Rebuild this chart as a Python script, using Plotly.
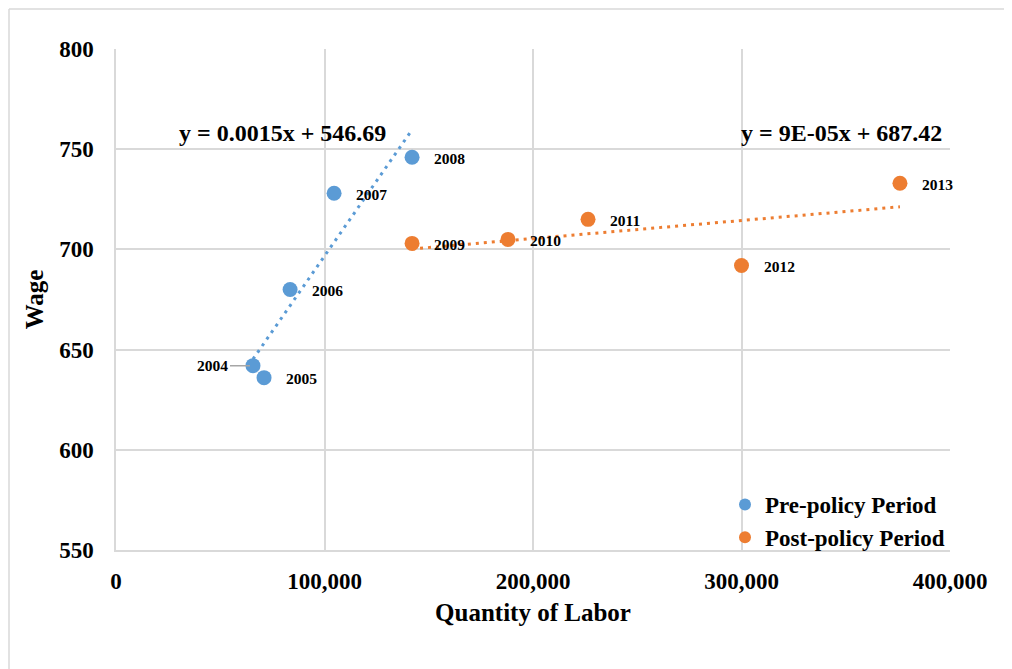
import plotly.graph_objects as go

# ---- data ----
pre_years = ["2004", "2005", "2006", "2007", "2008"]
pre_labor = [65700, 71000, 83500, 104600, 142000]
pre_wage = [642, 636, 680, 728, 746]

post_years = ["2009", "2010", "2011", "2012", "2013"]
post_labor = [142000, 188000, 226400, 300000, 376000]
post_wage = [703, 705, 715, 692, 733]

pre_slope, pre_intercept = 0.0015, 546.69
post_slope, post_intercept = 9e-05, 687.42
pre_eq = "y = 0.0015x + 546.69"
post_eq = "y = 9E-05x + 687.42"

x_ticks = [0, 100000, 200000, 300000, 400000]
y_ticks = [550, 600, 650, 700, 750, 800]

BLUE = "#5B9BD5"
ORANGE = "#ED7D31"
GRID = "#D9D9D9"
FONT = "Liberation Serif"

# page offset (browser body margin)
OFF = 8
W, H = 1012 - OFF, 669 - OFF
L, T = 116 - OFF, 49 - OFF
R = (1012 - OFF) - (950 - OFF)
B = (669 - OFF) - (550 - OFF)
pw, ph = W - L - R, H - T - B


def px_to_paper(px, py):
    """convert a screenshot pixel position to paper coordinates"""
    return (px - OFF - L) / pw, 1 - (py - OFF - T) / ph


fig = go.Figure()


def trend(xs, m, b):
    x0, x1 = min(xs), max(xs)
    return [x0, x1], [m * x0 + b, m * x1 + b]


tx, ty = trend(pre_labor, pre_slope, pre_intercept)
fig.add_trace(go.Scatter(x=tx, y=ty, mode="lines", showlegend=False,
                         line=dict(color=BLUE, width=3, dash="3px,5px"), hoverinfo="skip"))
tx, ty = trend(post_labor, post_slope, post_intercept)
fig.add_trace(go.Scatter(x=tx, y=ty, mode="lines", showlegend=False,
                         line=dict(color=ORANGE, width=3, dash="3px,5px"), hoverinfo="skip"))

fig.add_trace(go.Scatter(x=pre_labor, y=pre_wage, mode="markers", name="<b>Pre-policy Period</b>",
                         marker=dict(color=BLUE, size=15)))
fig.add_trace(go.Scatter(x=post_labor, y=post_wage, mode="markers", name="<b>Post-policy Period</b>",
                         marker=dict(color=ORANGE, size=15)))

annotations = []
lab_font = dict(family=FONT, size=15.5, color="black")
for yr, x, y in list(zip(pre_years, pre_labor, pre_wage)) + list(zip(post_years, post_labor, post_wage)):
    if yr == "2004":
        annotations.append(dict(x=x, y=y, xref="x", yref="y", text="<b>2004</b>", font=lab_font,
                                showarrow=True, arrowhead=0, arrowcolor="#A6A6A6", arrowwidth=1.5,
                                ax=-40, ay=0, standoff=3))
    else:
        annotations.append(dict(x=x, y=y, xref="x", yref="y", text=f"<b>{yr}</b>", font=lab_font,
                                showarrow=False, xanchor="left", xshift=20, yshift=-1))

eq_font = dict(family=FONT, size=24, color="black")
for txt, (px, py) in [(pre_eq, (282, 133)), (post_eq, (841, 133))]:
    ax_, ay_ = px_to_paper(px, py)
    annotations.append(dict(x=ax_, y=ay_, xref="paper", yref="paper", text=f"<b>{txt}</b>",
                            font=eq_font, showarrow=False, xanchor="center", yanchor="middle"))

bx0, by0 = px_to_paper(9, 9)
bx1, by1 = px_to_paper(1020, 680)
lgx, lgy = px_to_paper(950, 521)

fig.update_layout(
    width=W, height=H,
    margin=dict(l=L, r=R, t=T, b=B, autoexpand=False),
    paper_bgcolor="white", plot_bgcolor="white",
    font=dict(family=FONT, color="black"),
    annotations=annotations,
    legend=dict(x=lgx, y=lgy, xanchor="right", yanchor="middle", bgcolor="rgba(0,0,0,0)",
                font=dict(family=FONT, size=23, color="black"), itemsizing="constant",
                tracegroupgap=0, itemwidth=30, borderwidth=0),
    xaxis=dict(range=[0, 400000], tickvals=x_ticks, tickformat=",", showgrid=True,
               gridcolor=GRID, gridwidth=1.5, showline=True, linecolor=GRID, linewidth=1.5,
               zeroline=False, ticks="", ticklabelstandoff=10,
               tickfont=dict(family=FONT, size=23, color="black", weight="bold"),
               title=dict(text="<b>Quantity of Labor</b>", font=dict(family=FONT, size=25, color="black"),
                          standoff=10)),
    yaxis=dict(range=[550, 800], tickvals=y_ticks, showgrid=True, gridcolor=GRID, gridwidth=1.5,
               showline=True, linecolor=GRID, linewidth=1.5, zeroline=False, ticks="",
               ticklabelstandoff=16,
               tickfont=dict(family=FONT, size=23, color="black", weight="bold"),
               title=dict(text="<b>Wage</b>", font=dict(family=FONT, size=25, color="black"),
                          standoff=8)),
    shapes=[
        dict(type="line", xref="paper", yref="paper", x0=bx0, x1=bx1, y0=by0, y1=by0,
             line=dict(color=GRID, width=1.5)),
        dict(type="line", xref="paper", yref="paper", x0=bx0, x1=bx0, y0=by0, y1=by1,
             line=dict(color=GRID, width=1.5)),
    ],
)

fig.write_html("out.html")
